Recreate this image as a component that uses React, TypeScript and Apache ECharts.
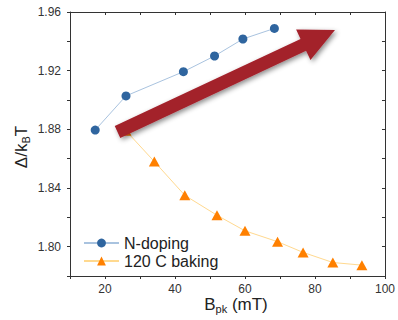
import React, { useEffect, useRef } from "react";
import * as echarts from "echarts";

const nDopingX = [17.2, 26.0, 42.4, 51.3, 59.4, 68.4];
const nDopingY = [1.8795, 1.9028, 1.9193, 1.930, 1.9416, 1.9488];
const bakingX = [26.0, 34.1, 42.8, 52.0, 60.0, 69.3, 76.6, 85.1, 93.4];
const bakingY = [1.879, 1.858, 1.835, 1.8214, 1.8108, 1.8034, 1.7961, 1.7892, 1.7874];
const seriesNames = ["N-doping", "120 C baking"];

const FONT = "Liberation Sans, Arial, sans-serif";

export default function App() {
  const ref = useRef<HTMLDivElement>(null);
  useEffect(() => {
    const chart = echarts.init(ref.current!, null, { renderer: "svg" });
    const axisLine = { show: true, lineStyle: { color: "#333", width: 1 } };
    const grid = { left: 70, top: 12, width: 326, height: 264 };
    // arrow geometry
    const T = [117.5, 132];
    const B = [303.3, 44.8];
    const len = Math.hypot(B[0] - T[0], B[1] - T[1]);
    const u = [(B[0] - T[0]) / len, (B[1] - T[1]) / len];
    const n = [-u[1], u[0]];
    const w = 6.5;
    const hw = 16.9;
    const hl = 35;
    const pts = [
      [T[0] - n[0] * w, T[1] - n[1] * w],
      [B[0] - n[0] * w, B[1] - n[1] * w],
      [B[0] - n[0] * hw, B[1] - n[1] * hw],
      [B[0] + u[0] * hl, B[1] + u[1] * hl],
      [B[0] + n[0] * hw, B[1] + n[1] * hw],
      [B[0] + n[0] * w, B[1] + n[1] * w],
      [T[0] + n[0] * w, T[1] + n[1] * w],
    ];
    const rich = {
      m: { fontSize: 17, fontFamily: FONT, fill: "#222", lineHeight: 18, verticalAlign: "top" },
      s: { fontSize: 11, fontFamily: FONT, fill: "#222", lineHeight: 11, verticalAlign: "top", padding: [7, 0, 0, 0] },
    };
    chart.setOption({
      animation: false,
      textStyle: { fontFamily: FONT },
      grid,
      xAxis: [
        {
          type: "value",
          min: 10,
          max: 100,
          interval: 10,
          axisLine,
          splitLine: { show: false },
          axisTick: { show: true, inside: false, length: 3, lineStyle: { color: "#333" } },
          axisLabel: {
            fontSize: 12,
            color: "#333",
            margin: 7,
            fontFamily: FONT,
            formatter: (v: number) => (Math.round(v) % 20 === 0 ? String(v) : ""),
          },
        },
        {
          type: "value",
          position: "top",
          min: 10,
          max: 100,
          interval: 10,
          axisLine,
          splitLine: { show: false },
          axisTick: { show: true, inside: true, length: 3, lineStyle: { color: "#333" } },
          axisLabel: { show: false },
        },
      ],
      yAxis: [
        {
          type: "value",
          min: 1.78,
          max: 1.96,
          interval: 0.02,
          axisLine,
          splitLine: { show: false },
          axisTick: { show: true, inside: false, length: 3, lineStyle: { color: "#333" } },
          axisLabel: {
            fontSize: 12,
            color: "#333",
            margin: 9,
            fontFamily: FONT,
            formatter: (v: number) => (Math.round(v * 100) % 4 === 0 ? v.toFixed(2) : ""),
          },
        },
        {
          type: "value",
          position: "right",
          min: 1.78,
          max: 1.96,
          interval: 0.02,
          axisLine,
          splitLine: { show: false },
          axisTick: { show: true, inside: true, length: 3, lineStyle: { color: "#333" } },
          axisLabel: { show: false },
        },
      ],
      legend: {
        orient: "vertical",
        left: 78,
        top: 230,
        itemWidth: 35,
        itemHeight: 11,
        itemGap: 2,
        textStyle: { fontSize: 16, color: "#222", fontFamily: FONT },
        data: seriesNames,
      },
      series: [
        {
          name: seriesNames[0],
          type: "line",
          data: nDopingX.map((x, i) => [x, nDopingY[i]]),
          symbol: "circle",
          symbolSize: 9,
          itemStyle: { color: "#2f659f" },
          lineStyle: { color: "#a9c3df", width: 1 },
          z: 3,
        },
        {
          name: seriesNames[1],
          type: "line",
          data: bakingX.map((x, i) => [x, bakingY[i]]),
          symbol: "triangle",
          symbolSize: [11, 10],
          itemStyle: { color: "#ff8000" },
          lineStyle: { color: "#ffd98f", width: 1 },
          z: 3,
        },
      ],
      graphic: [
        {
          type: "polygon",
          z: 100,
          shape: { points: pts },
          style: {
            fill: "#a3212c",
            shadowBlur: 5,
            shadowColor: "rgba(0,0,0,0.45)",
            shadowOffsetX: 2,
            shadowOffsetY: 2,
          },
        },
        {
          type: "text",
          x: 22,
          y: 147,
          rotation: Math.PI / 2,
          style: {
            text: "{m|Δ/k}{s|B}{m|T}",
            align: "center",
            verticalAlign: "middle",
            fill: "#222",
            rich,
          },
        },
        {
          type: "text",
          x: 236,
          y: 305,
          style: {
            text: "{m|B}{s|pk}{m| (mT)}",
            align: "center",
            verticalAlign: "middle",
            fill: "#222",
            rich,
          },
        },
      ],
    });
    return () => chart.dispose();
  }, []);
  return <div ref={ref} style={{ width: 398, height: 320, position: "absolute", left: 0, top: 0 }} />;
}
